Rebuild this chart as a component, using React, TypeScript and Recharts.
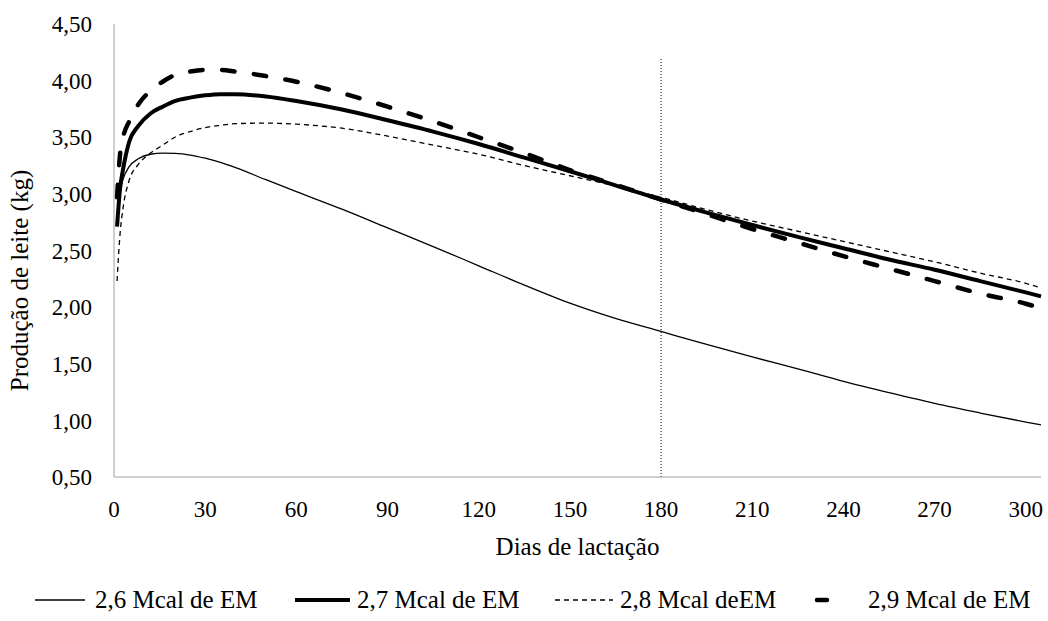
import { Line, LineChart, ReferenceLine, XAxis, YAxis } from "recharts";

// dias de lactação
const days = [1, 2, 3, 5, 8, 12, 16, 20, 25, 30, 35, 40, 50, 60, 75, 90, 105, 120, 135, 150, 165, 180, 195, 210, 225, 240, 255, 270, 285, 300, 305];

// produção de leite (kg) por nível de energia
const em26 = [2.72, 3.02, 3.13, 3.24, 3.31, 3.35, 3.36, 3.357, 3.343, 3.315, 3.278, 3.232, 3.125, 3.02, 2.865, 2.7, 2.535, 2.365, 2.195, 2.035, 1.9, 1.785, 1.67, 1.56, 1.455, 1.345, 1.245, 1.15, 1.065, 0.985, 0.96];
const em27 = [2.71, 3.05, 3.22, 3.46, 3.6, 3.71, 3.77, 3.82, 3.85, 3.87, 3.88, 3.88, 3.86, 3.82, 3.745, 3.65, 3.55, 3.44, 3.32, 3.2, 3.075, 2.95, 2.835, 2.725, 2.62, 2.52, 2.42, 2.33, 2.23, 2.13, 2.095];
const em28 = [2.23, 2.65, 2.88, 3.12, 3.26, 3.36, 3.43, 3.5, 3.55, 3.585, 3.605, 3.62, 3.625, 3.615, 3.58, 3.51, 3.43, 3.35, 3.25, 3.16, 3.07, 2.97, 2.86, 2.76, 2.67, 2.58, 2.49, 2.4, 2.3, 2.21, 2.17];
const em29 = [2.97, 3.35, 3.5, 3.64, 3.79, 3.91, 3.99, 4.05, 4.08, 4.095, 4.095, 4.08, 4.04, 3.99, 3.89, 3.77, 3.64, 3.5, 3.36, 3.21, 3.08, 2.95, 2.82, 2.69, 2.57, 2.45, 2.34, 2.23, 2.12, 2.03, 1.99];

const seriesNames = ["2,6 Mcal de EM", "2,7 Mcal de EM", "2,8 Mcal deEM", "2,9 Mcal de EM"];

const xTicks = [0, 30, 60, 90, 120, 150, 180, 210, 240, 270, 300];
const yTicks = [0.5, 1, 1.5, 2, 2.5, 3, 3.5, 4, 4.5];
const cutoffDay = 180;

const data = days.map((d, i) => ({
  dia: d,
  em26: em26[i],
  em27: em27[i],
  em28: em28[i],
  em29: em29[i]
}));

const FONT = '"Liberation Serif", "Times New Roman", serif';

const series = [
  { key: "em26", width: 1.3, dash: undefined, legendW: 50, gap: 10, left: 35 },
  { key: "em27", width: 4, dash: undefined, legendW: 55, gap: 7, left: 295 },
  { key: "em28", width: 1.3, dash: "5 4", legendW: 58, gap: 7, left: 555 },
  { key: "em29", width: 4.5, dash: "12.5 19.5", legendW: 40, gap: 15, left: 813 }
];

const fmt = (v: number) => v.toFixed(2).replace(".", ",");

function YTitle(props: any) {
  const vb = props.viewBox || { x: 0, y: 0, height: 0 };
  const x = vb.x + 22;
  const y = vb.y + vb.height / 2 + 30;
  return (
    <text x={x} y={y} transform={`rotate(-90 ${x} ${y})`} textAnchor="middle" dominantBaseline="middle" fontFamily={FONT} fontSize={25} fill="#000">
      Produção de leite (kg)
    </text>
  );
}

function XTitle(props: any) {
  const vb = props.viewBox || { x: 0, y: 0, width: 0 };
  return (
    <text x={vb.x + vb.width / 2} y={vb.y + 72} textAnchor="middle" dominantBaseline="middle" fontFamily={FONT} fontSize={25} fill="#000">
      Dias de lactação
    </text>
  );
}

export default function App() {
  return (
    <div style={{ position: "absolute", left: 0, top: 0, width: 1048, height: 621, background: "#fff", fontFamily: FONT }}>
      <LineChart width={1048} height={621} data={data} margin={{ top: 24, right: 7, left: 0, bottom: 84 }}>
        <XAxis
          dataKey="dia"
          type="number"
          domain={[0, 305]}
          ticks={xTicks}
          tickLine={false}
          tickSize={0}
          tickMargin={24}
          stroke="#a0a0a0"
          tick={{ fill: "#000", fontSize: 23, fontFamily: FONT }}
          height={60}
          label={<XTitle />}
        />
        <YAxis
          type="number"
          domain={[0.5, 4.5]}
          ticks={yTicks}
          tickFormatter={fmt}
          tickLine={false}
          tickSize={0}
          tickMargin={22}
          stroke="#a0a0a0"
          tick={{ fill: "#000", fontSize: 23, fontFamily: FONT }}
          width={114}
          label={<YTitle />}
        />
        <ReferenceLine
          segment={[
            { x: cutoffDay, y: 0.5 },
            { x: cutoffDay, y: 4.2 }
          ]}
          stroke="#000"
          strokeWidth={1}
          strokeDasharray="1 2"
        />
        {series.map((s) => (
          <Line
            key={s.key}
            type="monotone"
            dataKey={s.key}
            stroke="#000"
            strokeWidth={s.width}
            strokeDasharray={s.dash}
            strokeLinecap={s.key === "em29" ? "round" : "butt"}
            dot={false}
            activeDot={false}
            isAnimationActive={false}
          />
        ))}
      </LineChart>
      <div style={{ position: "absolute", left: 0, top: 585, width: 1048, height: 30, fontFamily: FONT, fontSize: 25 }}>
        {series.map((s, i) => (
          <div key={s.key} style={{ position: "absolute", left: s.left, top: 0, height: 30, display: "flex", alignItems: "center", whiteSpace: "nowrap" }}>
            <svg width={s.legendW} height={10} style={{ overflow: "visible", flexShrink: 0 }}>
              <line
                x1={s.key === "em29" ? 4 : 0}
                y1={5}
                x2={s.key === "em29" ? s.legendW - 4 : s.legendW}
                y2={5}
                stroke="#000"
                strokeWidth={s.width}
                strokeDasharray={s.key === "em29" ? "10 22" : s.dash}
                strokeLinecap={s.key === "em29" ? "round" : "butt"}
              />
            </svg>
            <span style={{ marginLeft: s.gap }}>{seriesNames[i]}</span>
          </div>
        ))}
      </div>
    </div>
  );
}
